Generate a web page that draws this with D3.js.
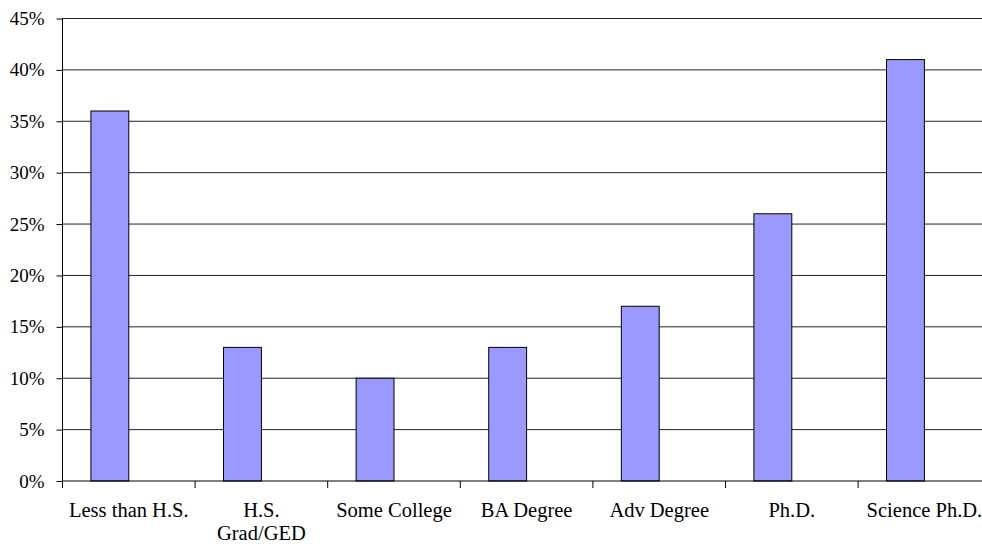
<!DOCTYPE html>
<html>
<head>
<meta charset="utf-8">
<script src="https://cdn.jsdelivr.net/npm/d3@7"></script>
<style>
  body { margin: 0; background: #fff; }
  text { font-family: "Liberation Serif", "Times New Roman", serif; fill: #000; }
</style>
</head>
<body>
<div id="chart"></div>
<script>
// data
var categories = ["Less than H.S.", "H.S. Grad/GED", "Some College", "BA Degree", "Adv Degree", "Ph.D.", "Science Ph.D."];
var values = [36, 13, 10, 13, 17, 26, 41];
var yTicks = [0, 5, 10, 15, 20, 25, 30, 35, 40, 45];

var W = 982, H = 546;
var margin = { top: 18.5, left: 62.5, bottom: 65 };
var bandW = 132.6;
var plotW = bandW * categories.length;
var plotH = 481 - margin.top;

var svg = d3.select("#chart").append("svg")
    .attr("width", W).attr("height", H);

var g = svg.append("g")
    .attr("transform", "translate(" + margin.left + "," + margin.top + ")");

var x = d3.scaleBand().domain(categories).range([0, plotW]).padding(0);
var y = d3.scaleLinear().domain([0, 45]).range([plotH, 0]);

// gridlines
g.selectAll(".grid").data(yTicks.filter(function (d) { return d > 0; }))
  .enter().append("line")
    .attr("x1", 0).attr("x2", plotW)
    .attr("y1", function (d) { return y(d); })
    .attr("y2", function (d) { return y(d); })
    .attr("stroke", "#222").attr("stroke-width", 1);

// bars (first of two series slots, Excel style)
var barW = bandW / 3.5;
g.selectAll(".bar").data(values)
  .enter().append("rect")
    .attr("x", function (d, i) { return x(categories[i]) + barW * 0.75; })
    .attr("y", function (d) { return y(d); })
    .attr("width", barW)
    .attr("height", function (d) { return plotH - y(d); })
    .attr("fill", "#9999FF")
    .attr("stroke", "#000").attr("stroke-width", 1);

// y axis
var yAxis = g.append("g")
    .call(d3.axisLeft(y).tickValues(yTicks).tickSize(6).tickPadding(12)
      .tickFormat(function (d) { return d + "%"; }));
yAxis.select(".domain").attr("d", "M0," + plotH + "V0").attr("stroke", "#000");
yAxis.selectAll("text").style("font-size", "19px").attr("font-family", null);

// x axis
var xAxis = g.append("g")
    .attr("transform", "translate(0," + plotH + ")")
    .call(d3.axisBottom(x).tickSize(0).tickFormat(""));
xAxis.select(".domain").attr("d", "M0,0H" + plotW).attr("stroke", "#000");

// category boundary ticks
g.selectAll(".xtick").data(d3.range(categories.length + 1))
  .enter().append("line")
    .attr("x1", function (i) { return i * bandW; })
    .attr("x2", function (i) { return i * bandW; })
    .attr("y1", plotH).attr("y2", plotH + 7)
    .attr("stroke", "#000");

// category labels (wrapped like the original)
var labelLines = [["Less than H.S."], ["H.S.", "Grad/GED"], ["Some College"], ["BA Degree"], ["Adv Degree"], ["Ph.D."], ["Science Ph.D."]];
categories.forEach(function (c, i) {
  var t = g.append("text")
      .attr("text-anchor", "middle")
      .style("font-size", "20.5px")
      .attr("x", x(c) + bandW / 2)
      .attr("y", plotH + 36);
  labelLines[i].forEach(function (ln, k) {
    t.append("tspan").attr("x", x(c) + bandW / 2).attr("dy", k === 0 ? 0 : 23).text(ln);
  });
});
</script>
</body>
</html>
